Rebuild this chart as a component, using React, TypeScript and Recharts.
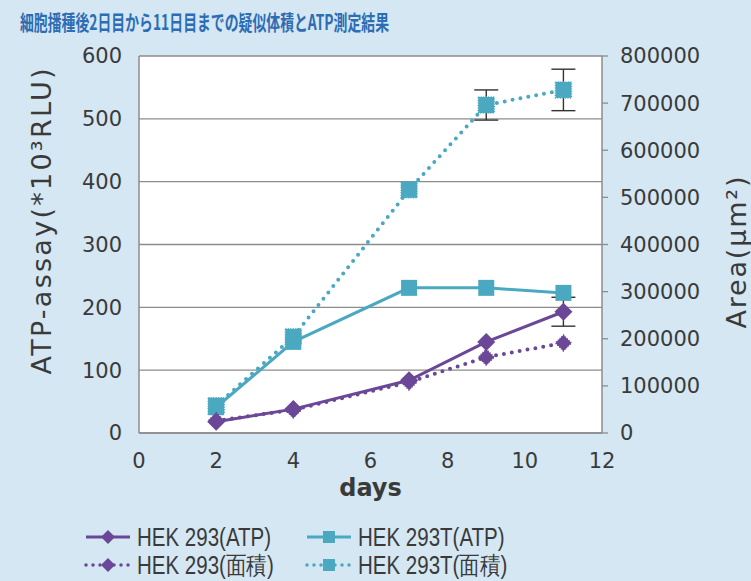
import { LineChart, Line, XAxis, YAxis, CartesianGrid, ErrorBar, Label } from 'recharts';

const days = [2, 4, 7, 9, 11];
const hek293Atp = [18, 38, 84, 145, 193];
const hek293AtpErr = [0, 0, 0, 0, 23];
const hek293Area = [26000, 49000, 108000, 161000, 191000];
const hek293tAtp = [41, 145, 231, 231, 223];
const hek293tArea = [58000, 204000, 516000, 696000, 728000];
const hek293tAreaErr = [0, 0, 0, 32000, 44000];

const xTicks = [0, 2, 4, 6, 8, 10, 12];
const atpTicks = [0, 100, 200, 300, 400, 500, 600];
const areaTicks = [0, 100000, 200000, 300000, 400000, 500000, 600000, 700000, 800000];

const data = days.map((day, i) => ({
  day,
  hek293Atp: hek293Atp[i],
  hek293AtpErr: hek293AtpErr[i],
  hek293Area: hek293Area[i],
  hek293tAtp: hek293tAtp[i],
  hek293tArea: hek293tArea[i],
  hek293tAreaErr: hek293tAreaErr[i],
}));

const PURPLE = '#6b4797';
const TEAL = '#4aa9c1';
const AXIS = '#8c8c8c';
const TEXT = '#3a3a3a';
const tickStyle = { fill: TEXT, fontSize: 21, fontFamily: 'DejaVu Sans' };

const Diamond = ({ cx, cy, fuzzy, r = 9 }: any) => {
  if (cx == null || cy == null) return null;
  return (
    <path
      d={`M${cx},${cy - r} L${cx + r},${cy} L${cx},${cy + r} L${cx - r},${cy} Z`}
      fill={PURPLE}
      stroke={fuzzy ? PURPLE : 'none'}
      strokeWidth={fuzzy ? 1.5 : 0}
      strokeDasharray={fuzzy ? '1 1.5' : undefined}
    />
  );
};

const Square = ({ cx, cy, fuzzy, s = 16 }: any) => {
  if (cx == null || cy == null) return null;
  return (
    <rect
      x={cx - s / 2}
      y={cy - s / 2}
      width={s}
      height={s}
      fill={TEAL}
      stroke={fuzzy ? TEAL : 'none'}
      strokeWidth={fuzzy ? 1.5 : 0}
      strokeDasharray={fuzzy ? '1 1.5' : undefined}
    />
  );
};

const legendItems = [
  { name: 'HEK 293(ATP)', color: PURPLE, dotted: false, shape: 'diamond', left: 84, top: 537 },
  { name: 'HEK 293T(ATP)', color: TEAL, dotted: false, shape: 'square', left: 305, top: 537 },
  { name: 'HEK 293(面積)', color: PURPLE, dotted: true, shape: 'diamond', left: 84, top: 565 },
  { name: 'HEK 293T(面積)', color: TEAL, dotted: true, shape: 'square', left: 305, top: 565 },
];

function LegendIcon({ color, dotted, shape }: any) {
  return (
    <svg width={48} height={20} style={{ display: 'block' }}>
      <line
        x1={2}
        y1={10}
        x2={46}
        y2={10}
        stroke={color}
        strokeWidth={dotted ? 3.5 : 3}
        strokeDasharray={dotted ? '0 7' : undefined}
        strokeLinecap={dotted ? 'round' : 'butt'}
      />
      {shape === 'diamond' ? <Diamond cx={24} cy={10} r={7} /> : <Square cx={24} cy={10} s={12} />}
    </svg>
  );
}

function AxisTitle({ viewBox, text, dx, dy, length }: any) {
  const x = viewBox.x + dx;
  const y = viewBox.y + viewBox.height / 2 + dy;
  return (
    <text
      x={x}
      y={y}
      transform={`rotate(-90, ${x}, ${y})`}
      textAnchor="middle"
      dominantBaseline="central"
      fill={TEXT}
      fontSize={27}
      fontFamily="DejaVu Sans"
      textLength={length}
      lengthAdjust="spacing"
    >
      {text}
    </text>
  );
}

export default function App() {
  return (
    <div
      style={{
        position: 'absolute',
        left: 0,
        top: 0,
        width: 751,
        height: 581,
        background: '#d4e7f3',
        overflow: 'hidden',
      }}
    >
      <div
        style={{
          position: 'absolute',
          left: 20,
          top: 10,
          fontFamily: '"Noto Sans CJK JP", sans-serif',
          fontWeight: 700,
          fontSize: 21,
          lineHeight: '22px',
          color: '#2d6db3',
          whiteSpace: 'nowrap',
          transform: 'scaleX(0.66)',
          transformOrigin: 'left center',
        }}
      >
        細胞播種後2日目から11日目までの疑似体積とATP測定結果
      </div>

      <LineChart width={751} height={581} data={data} margin={{ top: 56, right: 0, bottom: 48, left: 0 }}>
        <CartesianGrid yAxisId="left" vertical={false} stroke={AXIS} strokeWidth={1.3} fill="#ffffff" />
        <XAxis
          dataKey="day"
          type="number"
          domain={[0, 12]}
          ticks={xTicks}
          height={100}
          tickLine={false}
          tickSize={0}
          tickMargin={20}
          axisLine={{ stroke: AXIS, strokeWidth: 1.5 }}
          tick={tickStyle}
        >
          <Label
            value="days"
            position="insideTop"
            offset={46}
            fill={TEXT}
            fontSize={24}
            fontWeight={700}
            fontFamily="DejaVu Sans"
          />
        </XAxis>
        <YAxis
          yAxisId="left"
          domain={[0, 600]}
          ticks={atpTicks}
          width={139}
          tickLine={false}
          tickSize={0}
          tickMargin={17}
          axisLine={{ stroke: AXIS, strokeWidth: 1.5 }}
          tick={tickStyle}
        >
          <Label
            content={(props: any) => (
              <AxisTitle viewBox={props.viewBox} text="ATP-assay(*10³RLU)" dx={41} dy={-23} length={306} />
            )}
          />
        </YAxis>
        <YAxis
          yAxisId="right"
          orientation="right"
          domain={[0, 800000]}
          ticks={areaTicks}
          width={149}
          tickSize={6}
          tickMargin={12}
          tickLine={{ stroke: AXIS, strokeWidth: 1.3 }}
          axisLine={{ stroke: AXIS, strokeWidth: 1.5 }}
          tick={tickStyle}
        >
          <Label
            content={(props: any) => (
              <AxisTitle viewBox={props.viewBox} text="Area(μm²)" dx={134} dy={8} length={152} />
            )}
          />
        </YAxis>

        <Line
          yAxisId="right"
          dataKey="hek293tArea"
          stroke={TEAL}
          strokeWidth={4}
          strokeDasharray="0 8"
          strokeLinecap="round"
          dot={(p: any) => <Square key={`ta${p.index}`} cx={p.cx} cy={p.cy} fuzzy />}
          activeDot={false}
          isAnimationActive={false}
        >
          <ErrorBar dataKey="hek293tAreaErr" width={12} stroke="#333" strokeWidth={1.4} direction="y" />
        </Line>
        <Line
          yAxisId="left"
          dataKey="hek293tAtp"
          stroke={TEAL}
          strokeWidth={3}
          dot={(p: any) => <Square key={`tt${p.index}`} cx={p.cx} cy={p.cy} />}
          activeDot={false}
          isAnimationActive={false}
        />
        <Line
          yAxisId="right"
          dataKey="hek293Area"
          stroke={PURPLE}
          strokeWidth={4}
          strokeDasharray="0 8"
          strokeLinecap="round"
          dot={(p: any) => <Diamond key={`pa${p.index}`} cx={p.cx} cy={p.cy} r={8} fuzzy />}
          activeDot={false}
          isAnimationActive={false}
        />
        <Line
          yAxisId="left"
          dataKey="hek293Atp"
          stroke={PURPLE}
          strokeWidth={3}
          dot={(p: any) => <Diamond key={`pt${p.index}`} cx={p.cx} cy={p.cy} />}
          activeDot={false}
          isAnimationActive={false}
        >
          <ErrorBar dataKey="hek293AtpErr" width={12} stroke="#333" strokeWidth={1.4} direction="y" />
        </Line>
      </LineChart>

      {legendItems.map((item) => (
        <div
          key={item.name}
          style={{
            position: 'absolute',
            left: item.left,
            top: item.top - 14,
            height: 28,
            display: 'flex',
            alignItems: 'center',
            gap: 5,
          }}
        >
          <LegendIcon color={item.color} dotted={item.dotted} shape={item.shape} />
          <span
            style={{
              fontFamily: '"Liberation Sans", sans-serif',
              fontSize: 25,
              color: TEXT,
              whiteSpace: 'nowrap',
              display: 'inline-block',
              transform: 'scaleX(0.82)',
              transformOrigin: 'left center',
            }}
          >
            {item.name}
          </span>
        </div>
      ))}
    </div>
  );
}
